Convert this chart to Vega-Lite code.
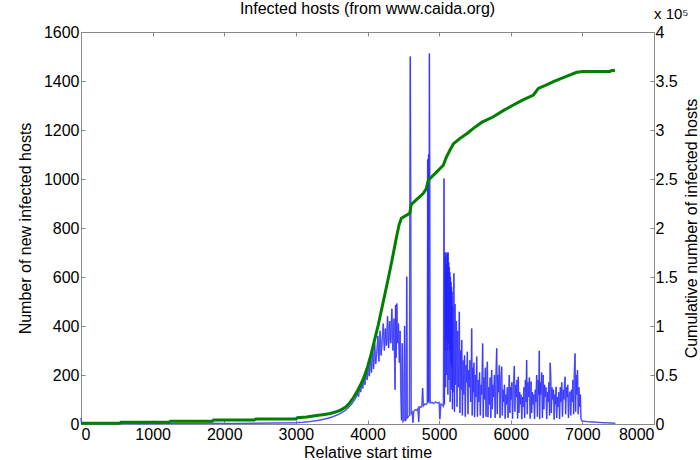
{
  "$schema": "https://vega.github.io/schema/vega-lite/v6.json",
  "width": 573,
  "height": 392,
  "autosize": "none",
  "padding": {"left": 81, "top": 32, "right": 46, "bottom": 36},
  "background": "white",
  "title": {"text": "Infected hosts (from www.caida.org)", "fontSize": 16, "fontWeight": "normal", "font": "Liberation Sans", "color": "black", "offset": -10},
  "config": {
    "view": {"stroke": null},
    "axis": {"labelFont": "Liberation Sans", "titleFont": "Liberation Sans", "labelFontSize": 16, "titleFontSize": 16, "titleFontWeight": "normal", "labelColor": "black", "titleColor": "black", "domainColor": "#888888", "tickColor": "#888888", "tickSize": -4, "labelPadding": 4, "grid": false}
  },
  "datasets": {
    "newhosts": [
      {"t":0,"n":25},{"t":8,"n":3},{"t":300,"n":1},{"t":600,"n":2},{"t":900,"n":1},{"t":1200,"n":2},{"t":1500,"n":2},{"t":1800,"n":3},{"t":2100,"n":2},{"t":2400,"n":3},{"t":2700,"n":4},{"t":3000,"n":5},{"t":3100,"n":7},{"t":3200,"n":10},{"t":3300,"n":14},{"t":3400,"n":20},{"t":3500,"n":28},{"t":3600,"n":40},{"t":3650,"n":48},{"t":3700,"n":58},{"t":3750,"n":72},{"t":3800,"n":90},{"t":3840,"n":108},{"t":3860,"n":125},{"t":3875,"n":112},{"t":3890,"n":150},{"t":3905,"n":130},{"t":3920,"n":170},{"t":3935,"n":145},{"t":3950,"n":195},{"t":3965,"n":160},{"t":3980,"n":225},{"t":3995,"n":180},{"t":4010,"n":250},{"t":4025,"n":195},{"t":4040,"n":275},{"t":4055,"n":210},{"t":4070,"n":300},{"t":4085,"n":225},{"t":4100,"n":330},{"t":4115,"n":245},{"t":4130,"n":290},{"t":4145,"n":360},{"t":4160,"n":255},{"t":4175,"n":380},{"t":4190,"n":280},{"t":4205,"n":340},{"t":4220,"n":410},{"t":4235,"n":300},{"t":4250,"n":390},{"t":4265,"n":320},{"t":4280,"n":440},{"t":4295,"n":310},{"t":4310,"n":420},{"t":4325,"n":330},{"t":4340,"n":470},{"t":4355,"n":300},{"t":4370,"n":430},{"t":4385,"n":140},{"t":4392,"n":486},{"t":4400,"n":270},{"t":4410,"n":492},{"t":4420,"n":330},{"t":4432,"n":410},{"t":4445,"n":250},{"t":4455,"n":380},{"t":4465,"n":140},{"t":4475,"n":15},{"t":4485,"n":330},{"t":4495,"n":10},{"t":4508,"n":15},{"t":4518,"n":400},{"t":4528,"n":12},{"t":4540,"n":20},{"t":4548,"n":601},{"t":4556,"n":25},{"t":4570,"n":30},{"t":4585,"n":35},{"t":4597,"n":1500},{"t":4603,"n":1009},{"t":4610,"n":42},{"t":4625,"n":48},{"t":4635,"n":5},{"t":4645,"n":52},{"t":4665,"n":58},{"t":4685,"n":55},{"t":4705,"n":64},{"t":4715,"n":8},{"t":4725,"n":70},{"t":4745,"n":68},{"t":4760,"n":76},{"t":4770,"n":147},{"t":4780,"n":74},{"t":4800,"n":82},{"t":4820,"n":80},{"t":4835,"n":85},{"t":4840,"n":1080},{"t":4846,"n":90},{"t":4852,"n":1100},{"t":4858,"n":88},{"t":4864,"n":1512},{"t":4869,"n":1050},{"t":4875,"n":86},{"t":4900,"n":88},{"t":4925,"n":84},{"t":4950,"n":90},{"t":4975,"n":86},{"t":5000,"n":88},{"t":5010,"n":20},{"t":5025,"n":82},{"t":5045,"n":78},{"t":5060,"n":72},
      {"t":5068,"n":1002},{"t":5074,"n":80},{"t":5080,"n":700},{"t":5084,"n":300},{"t":5088,"n":680},{"t":5091,"n":150},{"t":5095,"n":700},{"t":5099,"n":350},{"t":5102,"n":650},{"t":5106,"n":200},{"t":5110,"n":690},{"t":5114,"n":300},{"t":5118,"n":700},{"t":5122,"n":120},{"t":5126,"n":700},{"t":5130,"n":330},{"t":5134,"n":660},{"t":5138,"n":180},{"t":5142,"n":640},{"t":5146,"n":300},{"t":5150,"n":620},{"t":5154,"n":90},{"t":5158,"n":600},{"t":5162,"n":250},{"t":5166,"n":580},{"t":5170,"n":140},{"t":5174,"n":560},{"t":5178,"n":230},{"t":5182,"n":540},{"t":5186,"n":60},{"t":5190,"n":480},{"t":5198,"n":130},{"t":5206,"n":615},{"t":5214,"n":50},{"t":5222,"n":490},{"t":5230,"n":160},{"t":5240,"n":420},{"t":5250,"n":70},{"t":5260,"n":380},{"t":5270,"n":150},{"t":5282,"n":458},{"t":5290,"n":45},{"t":5300,"n":300},{"t":5308,"n":140},{"t":5316,"n":343},{"t":5325,"n":35},{"t":5335,"n":260},{"t":5345,"n":120},{"t":5355,"n":280},{"t":5365,"n":30},{"t":5375,"n":240},{"t":5385,"n":170},{"t":5394,"n":295},{"t":5403,"n":40},{"t":5412,"n":220},{"t":5421,"n":150},{"t":5430,"n":260},{"t":5440,"n":90},{"t":5448,"n":200},{"t":5455,"n":390},{"t":5462,"n":35},{"t":5470,"n":230},{"t":5478,"n":130},{"t":5486,"n":250},{"t":5495,"n":28},{"t":5505,"n":200},{"t":5515,"n":110},{"t":5525,"n":275},{"t":5535,"n":30},{"t":5545,"n":180},{"t":5555,"n":90},{"t":5565,"n":210},{"t":5575,"n":35},{"t":5585,"n":160},{"t":5595,"n":120},{"t":5608,"n":329},{"t":5616,"n":25},{"t":5625,"n":190},{"t":5635,"n":100},{"t":5645,"n":230},{"t":5655,"n":30},{"t":5664,"n":170},{"t":5673,"n":254},{"t":5682,"n":28},{"t":5692,"n":150},{"t":5702,"n":80},{"t":5712,"n":190},{"t":5722,"n":25},{"t":5734,"n":220},{"t":5742,"n":60},{"t":5752,"n":160},{"t":5762,"n":110},{"t":5772,"n":200},{"t":5782,"n":25},{"t":5792,"n":180},{"t":5804,"n":309},{"t":5812,"n":40},{"t":5820,"n":200},{"t":5830,"n":130},{"t":5840,"n":240},{"t":5850,"n":25},{"t":5860,"n":170},{"t":5874,"n":234},{"t":5882,"n":35},{"t":5892,"n":140},{"t":5902,"n":90},{"t":5912,"n":160},{"t":5922,"n":22},{"t":5932,"n":120},{"t":5942,"n":80},{"t":5952,"n":150},{"t":5962,"n":25},{"t":5970,"n":130},{"t":5980,"n":200},{"t":5988,"n":45},{"t":5996,"n":150},{"t":6005,"n":100},{"t":6015,"n":170},{"t":6025,"n":22},{"t":6035,"n":140},{"t":6050,"n":237},{"t":6058,"n":50},{"t":6068,"n":160},{"t":6078,"n":110},{"t":6088,"n":180},{"t":6096,"n":22},{"t":6105,"n":193},{"t":6114,"n":45},{"t":6124,"n":130},{"t":6134,"n":80},{"t":6144,"n":120},{"t":6154,"n":20},{"t":6164,"n":110},{"t":6174,"n":70},{"t":6184,"n":150},{"t":6194,"n":25},{"t":6204,"n":180},{"t":6214,"n":90},{"t":6222,"n":261},{"t":6230,"n":40},{"t":6240,"n":170},{"t":6250,"n":110},{"t":6260,"n":190},{"t":6270,"n":22},{"t":6284,"n":173},{"t":6292,"n":45},{"t":6302,"n":130},{"t":6312,"n":80},{"t":6322,"n":120},{"t":6332,"n":20},{"t":6342,"n":140},{"t":6352,"n":90},{"t":6362,"n":200},{"t":6372,"n":30},{"t":6382,"n":180},{"t":6392,"n":120},{"t":6398,"n":299},{"t":6404,"n":20},{"t":6412,"n":170},{"t":6422,"n":120},{"t":6432,"n":210},{"t":6442,"n":25},{"t":6452,"n":200},{"t":6462,"n":60},{"t":6472,"n":160},{"t":6482,"n":110},{"t":6492,"n":150},{"t":6502,"n":20},{"t":6512,"n":130},{"t":6522,"n":90},{"t":6532,"n":170},{"t":6542,"n":35},{"t":6550,"n":250},{"t":6558,"n":200},{"t":6566,"n":45},{"t":6576,"n":150},{"t":6586,"n":100},{"t":6596,"n":140},{"t":6606,"n":18},{"t":6616,"n":120},{"t":6624,"n":80},{"t":6633,"n":152},{"t":6642,"n":25},{"t":6652,"n":110},{"t":6662,"n":70},{"t":6672,"n":130},{"t":6682,"n":20},{"t":6692,"n":150},{"t":6702,"n":90},{"t":6712,"n":170},{"t":6722,"n":30},{"t":6732,"n":140},{"t":6742,"n":100},{"t":6752,"n":170},{"t":6759,"n":193},{"t":6766,"n":40},{"t":6776,"n":150},{"t":6786,"n":110},{"t":6796,"n":160},{"t":6806,"n":25},{"t":6816,"n":120},{"t":6829,"n":132},{"t":6838,"n":35},{"t":6848,"n":140},{"t":6858,"n":90},{"t":6868,"n":180},{"t":6878,"n":40},{"t":6888,"n":210},{"t":6898,"n":288},{"t":6906,"n":50},{"t":6914,"n":200},{"t":6922,"n":120},{"t":6932,"n":220},{"t":6942,"n":40},{"t":6952,"n":150},{"t":6962,"n":70},{"t":6972,"n":120},{"t":6980,"n":25},{"t":6990,"n":14},
      {"t":7000,"n":12},{"t":7050,"n":10},{"t":7100,"n":9},{"t":7150,"n":8},{"t":7200,"n":7},{"t":7250,"n":6},{"t":7300,"n":5},{"t":7350,"n":5},{"t":7400,"n":4},{"t":7460,"n":3}
    ],
    "cumulative": [
      {"t":0,"c":700},{"t":540,"c":700},{"t":560,"c":1700},{"t":1230,"c":1700},{"t":1250,"c":2700},{"t":1830,"c":2700},{"t":1850,"c":4000},{"t":2420,"c":4000},{"t":2440,"c":5100},{"t":3000,"c":5100},{"t":3020,"c":6500},{"t":3150,"c":7200},{"t":3290,"c":8600},{"t":3400,"c":9800},{"t":3480,"c":10800},{"t":3550,"c":12200},{"t":3620,"c":14000},{"t":3700,"c":17500},{"t":3750,"c":21500},{"t":3800,"c":26500},{"t":3850,"c":32500},{"t":3900,"c":39500},{"t":3950,"c":47500},{"t":4000,"c":58000},{"t":4050,"c":71000},{"t":4100,"c":86000},{"t":4150,"c":101000},{"t":4200,"c":118000},{"t":4250,"c":135000},{"t":4300,"c":152000},{"t":4350,"c":170000},{"t":4400,"c":189000},{"t":4440,"c":203000},{"t":4473,"c":210000},{"t":4590,"c":215000},{"t":4610,"c":224000},{"t":4700,"c":230000},{"t":4780,"c":235400},{"t":4820,"c":240000},{"t":4850,"c":249000},{"t":4950,"c":256000},{"t":5058,"c":264000},{"t":5100,"c":272000},{"t":5152,"c":279600},{"t":5200,"c":286000},{"t":5292,"c":291500},{"t":5400,"c":297000},{"t":5478,"c":301700},{"t":5600,"c":308000},{"t":5757,"c":313500},{"t":5900,"c":320000},{"t":6036,"c":325500},{"t":6150,"c":330000},{"t":6316,"c":335700},{"t":6340,"c":338000},{"t":6385,"c":342500},{"t":6500,"c":346000},{"t":6595,"c":349300},{"t":6750,"c":354000},{"t":6921,"c":358900},{"t":7014,"c":359600},{"t":7386,"c":359600},{"t":7400,"c":360500},{"t":7455,"c":361000}
    ]
  },
  "layer": [
    {
      "data": {"name": "newhosts"},
      "layer": [
        {"mark": {"type": "line", "color": "#8080ff", "strokeWidth": 1.6}},
        {"mark": {"type": "line", "color": "#1a1aff", "strokeWidth": 0.6, "opacity": 0.85}}
      ],
      "encoding": {
        "x": {"field": "t", "type": "quantitative", "scale": {"domain": [0, 8000], "nice": false},
              "axis": {"orient": "bottom", "format": "d", "values": [0,1000,2000,3000,4000,5000,6000,7000,8000], "title": "Relative start time", "titlePadding": 2, "labelPadding": 6}},
        "y": {"field": "n", "type": "quantitative", "scale": {"domain": [0, 1600], "nice": false},
              "axis": {"orient": "left", "format": "d", "values": [0,200,400,600,800,1000,1200,1400,1600], "title": "Number of new infected hosts", "titlePadding": 10, "labelPadding": 6}}
      }
    },
    {
      "layer": [
        {"data": {"name": "cumulative"}, "mark": {"type": "line", "color": "#008000", "strokeWidth": 3}},
        {"data": {"values": [{"t": 8000, "c": 400000, "label": "x 10⁵"}]},
         "mark": {"type": "text", "align": "left", "baseline": "alphabetic", "dx": 0, "dy": -13, "fontSize": 15, "font": "Liberation Sans", "color": "black"},
         "encoding": {"text": {"field": "label"}}}
      ],
      "encoding": {
        "x": {"field": "t", "type": "quantitative", "scale": {"domain": [0, 8000], "nice": false},
              "axis": {"orient": "top", "labels": false, "title": null, "values": [0,1000,2000,3000,4000,5000,6000,7000,8000]}},
        "y": {"field": "c", "type": "quantitative", "scale": {"domain": [0, 400000], "nice": false},
              "axis": {"orient": "right", "values": [0,50000,100000,150000,200000,250000,300000,350000,400000], "labelExpr": "datum.value / 100000", "title": "Cumulative number of infected hosts", "titleAngle": 270, "titleBaseline": "top", "titlePadding": 6, "labelPadding": 5}}
      }
    }
  ],
  "resolve": {"scale": {"y": "independent"}, "axis": {"x": "independent", "y": "independent"}}
}
